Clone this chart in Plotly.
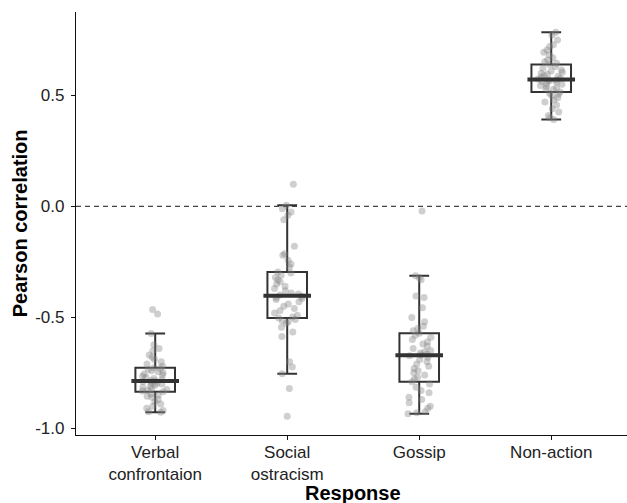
import numpy as np
import plotly.graph_objects as go

categories = ["Verbal<br>confrontaion", "Social<br>ostracism", "Gossip", "Non-action"]

verbal = [-0.928, -0.925, -0.92, -0.91, -0.90, -0.89, -0.88, -0.87, -0.86, -0.855,
          -0.85, -0.845, -0.835, -0.832, -0.83, -0.825, -0.82, -0.815, -0.81, -0.805,
          -0.80, -0.797, -0.793, -0.789, -0.787, -0.786, -0.78, -0.775, -0.77, -0.765,
          -0.76, -0.755, -0.75, -0.745, -0.74, -0.735, -0.73, -0.727, -0.72, -0.71,
          -0.70, -0.69, -0.68, -0.67, -0.65, -0.64, -0.623, -0.573, -0.485, -0.465]

social = [-0.945, -0.82, -0.754, -0.724, -0.70, -0.586, -0.566, -0.545, -0.527, -0.52,
          -0.515, -0.51, -0.503, -0.498, -0.49, -0.48, -0.47, -0.46, -0.45, -0.44,
          -0.43, -0.42, -0.415, -0.41, -0.405, -0.399, -0.395, -0.39, -0.38, -0.37,
          -0.36, -0.35, -0.34, -0.33, -0.32, -0.31, -0.30, -0.296, -0.273, -0.26,
          -0.243, -0.22, -0.213, -0.18, -0.06, -0.04, -0.025, -0.01, 0.005, 0.10]

gossip = [-0.934, -0.93, -0.925, -0.91, -0.90, -0.885, -0.87, -0.86, -0.84, -0.83,
          -0.815, -0.80, -0.79, -0.778, -0.77, -0.76, -0.75, -0.74, -0.73, -0.72,
          -0.71, -0.70, -0.69, -0.68, -0.673, -0.669, -0.665, -0.66, -0.655, -0.65,
          -0.64, -0.63, -0.62, -0.61, -0.60, -0.59, -0.58, -0.572, -0.56, -0.55,
          -0.54, -0.52, -0.50, -0.457, -0.41, -0.404, -0.33, -0.32, -0.312, -0.021]

nonaction = [0.392, 0.40, 0.41, 0.425, 0.44, 0.457, 0.47, 0.48, 0.49, 0.50,
             0.505, 0.51, 0.515, 0.527, 0.53, 0.535, 0.54, 0.545, 0.55, 0.555,
             0.56, 0.563, 0.566, 0.568, 0.570, 0.574, 0.578, 0.582, 0.586, 0.59,
             0.595, 0.60, 0.605, 0.61, 0.615, 0.622, 0.63, 0.640, 0.645, 0.652,
             0.66, 0.67, 0.682, 0.695, 0.705, 0.72, 0.728, 0.75, 0.772, 0.785]

y_tickvals = [-1.0, -0.5, 0.0, 0.5]
y_ticktext = ["-1.0", "-0.5", "0.0", "0.5"]

series = [verbal, social, gossip, nonaction]

xs, ys = [], []
for cat, vals in zip(categories, series):
    xs += [cat] * len(vals)
    ys += vals

FONT = "Liberation Sans, Arial, Helvetica, sans-serif"
DARK = "#333333"
X_RANGE = [-0.6, 3.574]

fig = go.Figure()
fig.add_trace(go.Box(
    x=xs, y=ys,
    boxpoints="all", jitter=0.75, pointpos=0,
    marker=dict(color="rgba(128,128,128,0.38)", size=7, line=dict(width=0)),
    line=dict(color=DARK, width=2),
    fillcolor="rgba(0,0,0,0)",
    whiskerwidth=0.5,
    width=0.3,
    showlegend=False,
))
# thicker median line (ggplot style)
fig.add_trace(go.Scatter(
    x=categories, y=[float(np.median(v)) for v in series],
    mode="markers",
    marker=dict(symbol="line-ew", size=34, line=dict(color=DARK, width=4)),
    showlegend=False, hoverinfo="skip",
))

fig.add_hline(y=0, line=dict(color="#444444", width=1.2, dash="5px,4px"), layer="below")

fig.update_layout(
    width=627, height=503,
    margin=dict(l=76, r=0, t=12, b=68),
    paper_bgcolor="white", plot_bgcolor="white",
    font=dict(family=FONT, color="#222222"),
    showlegend=False,
    annotations=[
        dict(text="<b>Response</b>", xref="paper", yref="paper",
             x=(1.5 - X_RANGE[0]) / (X_RANGE[1] - X_RANGE[0]),
             y=-0.136, xanchor="center", yanchor="middle", showarrow=False,
             font=dict(size=20, color="#000000")),
        dict(text="<b>Pearson correlation</b>", xref="paper", yref="paper",
             x=-0.102, y=0.5, xanchor="center", yanchor="middle", textangle=-90,
             showarrow=False, font=dict(size=20, color="#000000")),
    ],
)
fig.update_xaxes(
    type="category", categoryorder="array", categoryarray=categories,
    range=X_RANGE,
    showline=True, linecolor="#111111", linewidth=1.3,
    ticks="outside", ticklen=4, tickcolor="#111111", tickwidth=1.3,
    ticklabelstandoff=-3,
    tickfont=dict(size=17, color="#222222"),
    showgrid=False, zeroline=False,
)
fig.update_yaxes(
    range=[-1.03, 0.876],
    tickvals=y_tickvals, ticktext=y_ticktext,
    showline=True, linecolor="#111111", linewidth=1.3,
    ticks="outside", ticklen=4, tickcolor="#111111", tickwidth=1.3,
    ticklabelstandoff=3,
    tickfont=dict(size=17, color="#222222"),
    showgrid=False, zeroline=False,
)

fig.write_html("out.html",
               config={"displayModeBar": False},
               post_script="document.body.style.margin='0';document.body.style.overflow='hidden';")
